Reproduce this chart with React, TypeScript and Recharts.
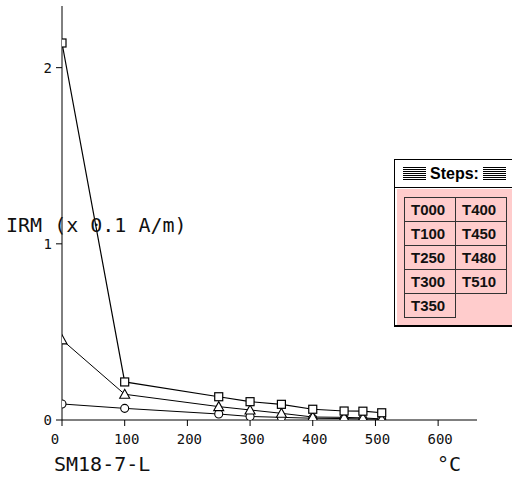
import { Line, LineChart, XAxis, YAxis } from "recharts";

const temps = [0, 100, 250, 300, 350, 400, 450, 480, 510];
const squareIrm = [2.14, 0.216, 0.132, 0.104, 0.089, 0.061, 0.051, 0.05, 0.041];
const triangleIrm = [0.455, 0.146, 0.076, 0.057, 0.038, 0.017, 0.015, 0.012, 0.006];
const circleIrm = [0.091, 0.066, 0.034, 0.02, 0.015, 0.01, 0.008, 0.006, 0.004];

const xTicks = [0, 100, 200, 300, 400, 500, 600];
const yTicks = [0, 1, 2];

const steps = ["T000", "T100", "T250", "T300", "T350", "T400", "T450", "T480", "T510"];

const data = temps.map((t, i) => ({
  t,
  square: squareIrm[i],
  triangle: triangleIrm[i],
  circle: circleIrm[i],
}));

const mono = "'DejaVu Sans Mono', monospace";

function SquareDot(props: any) {
  const { cx, cy, index } = props;
  return <rect key={`s${index}`} x={cx - 4} y={cy - 4} width={8} height={8} fill="#fff" stroke="#000" strokeWidth={1.2} />;
}

function TriangleDot(props: any) {
  const { cx, cy, index } = props;
  return (
    <path
      key={`t${index}`}
      d={`M${cx},${cy - 5} L${cx + 5},${cy + 4} L${cx - 5},${cy + 4} Z`}
      fill="#fff"
      stroke="#000"
      strokeWidth={1.1}
    />
  );
}

function CircleDot(props: any) {
  const { cx, cy, index } = props;
  return <circle key={`c${index}`} cx={cx} cy={cy} r={4} fill="#fff" stroke="#000" strokeWidth={1.1} />;
}

function XTick(props: any) {
  const { x, y, payload } = props;
  const shift = payload.value === 0 ? -7 : 2;
  return (
    <text x={x + shift} y={y} dy="0.71em" textAnchor="middle" fontFamily={mono} fontSize={14} fill="#111">
      {payload.value}
    </text>
  );
}

const stripes = {
  width: 23,
  height: 13,
  background: "repeating-linear-gradient(#000 0px, #000 1px, #fff 1px, #fff 2px)",
};

function StepsBox() {
  const left = steps.slice(0, 5);
  const right = steps.slice(5);
  const cell = (label: string, key: string, border: boolean) => (
    <div
      key={key}
      style={{
        boxSizing: "border-box",
        width: 52,
        height: 25,
        border: border ? "1px solid #333" : "none",
        marginTop: -1,
        marginLeft: -1,
        fontFamily: "'Liberation Sans', Arial, sans-serif",
        fontWeight: 700,
        fontSize: 15,
        lineHeight: "23px",
        paddingLeft: 6,
        color: "#111",
      }}
    >
      {label}
    </div>
  );
  return (
    <div
      style={{
        position: "absolute",
        left: 394,
        top: 159,
        width: 130,
        height: 168,
        border: "1px solid #000",
        borderBottom: "2px solid #000",
        background: "#fff",
        boxSizing: "border-box",
      }}
    >
      <div
        style={{
          height: 27,
          borderBottom: "1px solid #000",
          display: "flex",
          alignItems: "center",
          paddingLeft: 8,
          gap: 4,
        }}
      >
        <div style={stripes} />
        <span
          style={{
            fontFamily: "'Liberation Sans', Arial, sans-serif",
            fontWeight: 700,
            fontSize: 16,
            color: "#000",
          }}
        >
          Steps:
        </span>
        <div style={stripes} />
      </div>
      <div
        style={{
          position: "absolute",
          left: 2,
          top: 29,
          right: 0,
          bottom: 0,
          background: "#ffcccc",
        }}
      >
        <div style={{ position: "absolute", left: 8, top: 9, display: "flex" }}>
          <div>{left.map((s) => cell(s, s, true))}</div>
          <div>
            {right.map((s) => cell(s, s, true))}
          </div>
        </div>
      </div>
    </div>
  );
}

export default function App() {
  return (
    <div
      style={{
        position: "absolute",
        left: 0,
        top: 0,
        width: 512,
        height: 479,
        overflow: "hidden",
        background: "#fff",
      }}
    >
      <LineChart width={512} height={479} data={data} margin={{ top: 6, right: 35, bottom: 0, left: 0 }}>
        <XAxis
          type="number"
          dataKey="t"
          domain={[0, 662]}
          ticks={xTicks}
          allowDataOverflow
          height={59}
          tickSize={6}
          tickMargin={8}
          stroke="#000"
          tickLine={{ stroke: "#000" }}
          tick={<XTick />}
        />
        <YAxis
          type="number"
          domain={[0, 2.35]}
          ticks={yTicks}
          allowDataOverflow
          width={62}
          tickSize={6}
          tickMargin={4}
          stroke="#000"
          tickLine={{ stroke: "#000" }}
          tick={{ fill: "#111", fontSize: 14, fontFamily: mono }}
        />
        <Line dataKey="circle" stroke="#000" strokeWidth={1} dot={CircleDot} isAnimationActive={false} />
        <Line dataKey="triangle" stroke="#000" strokeWidth={1} dot={TriangleDot} isAnimationActive={false} />
        <Line dataKey="square" stroke="#000" strokeWidth={1.2} dot={SquareDot} isAnimationActive={false} />
      </LineChart>
      <div
        style={{
          position: "absolute",
          left: 6,
          top: 213,
          fontFamily: mono,
          fontSize: 20,
          color: "#111",
          whiteSpace: "pre",
        }}
      >
        IRM (x 0.1 A/m)
      </div>
      <div
        style={{
          position: "absolute",
          left: 54,
          top: 452,
          fontFamily: mono,
          fontSize: 20,
          color: "#111",
        }}
      >
        SM18-7-L
      </div>
      <div
        style={{
          position: "absolute",
          left: 437,
          top: 452,
          fontFamily: mono,
          fontSize: 20,
          color: "#111",
        }}
      >
        °C
      </div>
      <StepsBox />
    </div>
  );
}
